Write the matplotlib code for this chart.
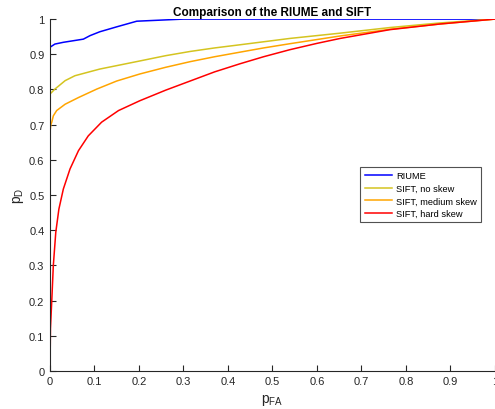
import matplotlib.pyplot as plt

plt.rcParams['font.family'] = ['Liberation Sans', 'DejaVu Sans']

# ROC curves
riume_pfa = [0, 0, 0.011, 0.03, 0.055, 0.075, 0.09, 0.112, 0.15, 0.195, 0.3, 1.0]
riume_pd = [0, 0.92, 0.929, 0.934, 0.939, 0.943, 0.953, 0.964, 0.978, 0.994, 1.0, 1.0]

noskew_pfa = [0, 0, 0.011, 0.034, 0.056, 0.112, 0.202, 0.26, 0.315, 0.37, 0.427, 0.539, 0.652, 0.764, 0.876, 1.0]
noskew_pd = [0, 0.787, 0.801, 0.825, 0.839, 0.858, 0.881, 0.896, 0.908, 0.918, 0.927, 0.945, 0.96, 0.976, 0.989, 1.0]

medium_pfa = [0, 0, 0.002, 0.004, 0.0075, 0.015, 0.034, 0.064, 0.105, 0.15, 0.202, 0.26, 0.315, 0.37, 0.427,
              0.48, 0.539, 0.652, 0.764, 0.876, 1.0]
medium_pd = [0, 0.68, 0.70, 0.707, 0.725, 0.74, 0.758, 0.777, 0.801, 0.824, 0.844, 0.863, 0.879, 0.893, 0.906,
             0.918, 0.93, 0.952, 0.971, 0.986, 1.0]

hard_pfa = [0, 0.001, 0.004, 0.0075, 0.013, 0.020, 0.030, 0.045, 0.064, 0.086, 0.116, 0.154, 0.202,
            0.26, 0.315, 0.37, 0.427, 0.48, 0.539, 0.6, 0.652, 0.764, 0.876, 1.0]
hard_pd = [0, 0.12, 0.2, 0.3, 0.394, 0.46, 0.517, 0.574, 0.626, 0.668, 0.707, 0.74, 0.768,
           0.798, 0.824, 0.85, 0.873, 0.893, 0.913, 0.931, 0.945, 0.97, 0.986, 1.0]

fig = plt.figure(figsize=(4.95, 4.10), dpi=100)
ax = fig.add_axes([0.101, 0.093, 0.899, 0.858])

ax.plot(riume_pfa, riume_pd, color='#0000ff', lw=1.1, label='RIUME')
ax.plot(noskew_pfa, noskew_pd, color='#d4c420', lw=1.1, label='SIFT, no skew')
ax.plot(medium_pfa, medium_pd, color='#ffa500', lw=1.1, label='SIFT, medium skew')
ax.plot(hard_pfa, hard_pd, color='#ff0000', lw=1.1, label='SIFT, hard skew')

ax.set_xlim(0, 1)
ax.set_ylim(0, 1)
ax.set_xticks([i / 10 for i in range(11)])
ax.set_yticks([i / 10 for i in range(11)])
ax.set_xticklabels(['0', '0.1', '0.2', '0.3', '0.4', '0.5', '0.6', '0.7', '0.8', '0.9', '1'])
ax.set_yticklabels(['0', '0.1', '0.2', '0.3', '0.4', '0.5', '0.6', '0.7', '0.8', '0.9', '1'])
ax.tick_params(direction='in', length=4, width=0.8, colors='#262626', labelsize=8, pad=4)
ax.spines['top'].set_visible(False)
ax.spines['right'].set_visible(False)
for s in ['left', 'bottom']:
    ax.spines[s].set_color('#262626')
    ax.spines[s].set_linewidth(0.8)

ax.set_title('Comparison of the RIUME and SIFT', fontsize=8.5, fontweight='bold', pad=3)
ax.set_xlabel('$\\mathregular{p_{FA}}$', fontsize=10, color='#262626', labelpad=4)
ax.set_ylabel('$\\mathregular{p_{D}}$', fontsize=10, color='#262626', labelpad=2)

leg = ax.legend(loc='upper left', bbox_to_anchor=(0.728, 0.59), bbox_transform=fig.transFigure,
                fontsize=6.7, frameon=True, fancybox=False, handlelength=3.0,
                borderpad=0.45, labelspacing=0.38, handletextpad=0.4, borderaxespad=0)
leg.get_frame().set_edgecolor('#262626')
leg.get_frame().set_linewidth(0.8)

fig.savefig('out.png', dpi=100)
